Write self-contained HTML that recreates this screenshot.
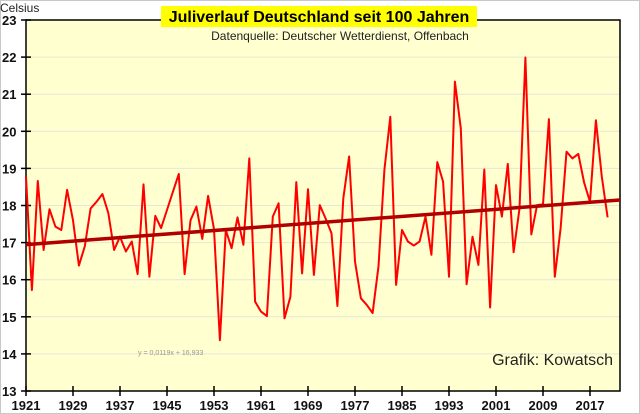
<!DOCTYPE html>
<html><head><meta charset="utf-8"><style>
body{margin:0;background:#fff;}
svg{display:block;font-family:"Liberation Sans",Arial,sans-serif;}
</style></head><body>
<svg id="chart" width="640" height="414" viewBox="0 0 640 414">
<rect x="0.5" y="0.5" width="639" height="413" fill="#fff" stroke="#c8c8c8"/>
<rect x="26" y="20" width="594" height="371" fill="#ffffd0"/>
<g id="grid"></g>
<g id="axes"></g>
<g id="series"></g>
<text x="0" y="12" font-size="12" fill="#222">Celsius</text>
<rect x="161" y="6" width="316" height="21" fill="#ffff00"/>
<text x="319" y="22" font-size="16" font-weight="bold" text-anchor="middle" fill="#000">Juliverlauf Deutschland seit 100 Jahren</text>
<text x="340" y="40" font-size="12" text-anchor="middle" fill="#222">Datenquelle: Deutscher Wetterdienst, Offenbach</text>
<text x="138" y="355" font-size="7" fill="#999">y = 0,0119x + 16,933</text>
<text x="613" y="365" font-size="16" text-anchor="end" fill="#222">Grafik: Kowatsch</text>
</svg>
<script>
const years = [];
for (let y = 1921; y <= 2020; y++) years.push(y);
const temps = [18.78,15.72,18.66,16.8,17.9,17.43,17.34,18.42,17.6,16.38,
16.9,17.92,18.1,18.31,17.8,16.8,17.16,16.76,17.03,16.15,
18.57,16.08,17.72,17.39,17.88,18.37,18.85,16.15,17.6,17.97,
17.1,18.26,17.36,14.37,17.34,16.85,17.68,16.94,19.27,15.41,
15.14,15.02,17.7,18.06,14.96,15.54,18.63,16.17,18.44,16.13,
18.01,17.65,17.25,15.29,18.19,19.32,16.49,15.5,15.32,15.1,
16.36,18.96,20.39,15.86,17.34,17.03,16.92,17.03,17.7,16.67,
19.17,18.64,16.08,21.34,20.08,15.88,17.16,16.4,18.97,15.25,
18.55,17.7,19.12,16.74,17.92,21.99,17.22,18.01,18.03,20.33,
16.08,17.38,19.45,19.27,19.39,18.62,18.1,20.3,18.78,17.68];
const yTicks = [13,14,15,16,17,18,19,20,21,22,23];
const xTickYears = [1921,1929,1937,1945,1953,1961,1969,1977,1985,1993,2001,2009,2017];
const trendSlope = 0.0119, trendIntercept = 16.933;

const NS = "http://www.w3.org/2000/svg";
const X = yr => 26 + (yr - 1921) * 5.875;
const Y = v => 391 - (v - 13) * 37.1;
function mk(tag, attrs, parent){const e=document.createElementNS(NS,tag);for(const k in attrs)e.setAttribute(k,attrs[k]);parent.appendChild(e);return e;}
const grid=document.getElementById('grid'),axes=document.getElementById('axes'),series=document.getElementById('series');

yTicks.forEach(t=>{
  if(t>13 && t<23){const g=mk('line',{x1:26,x2:620,y1:Y(t),y2:Y(t),stroke:'#e6e6d8','stroke-width':1},grid);
  
  }
  const tk=mk('line',{x1:21,x2:31,y1:Y(t),y2:Y(t),stroke:'#000','stroke-width':1.5},axes);
  
  
  const lb=mk('text',{x:2,y:Y(t)+5,'font-size':13,'font-weight':'bold',fill:'#111'},axes);
  lb.textContent=t;
  
  
});
xTickYears.forEach(yr=>{
  const tk=mk('line',{x1:X(yr),x2:X(yr),y1:386,y2:396,stroke:'#000','stroke-width':1.5},axes);
  
  
  const lb=mk('text',{x:X(yr),y:410,'font-size':13,'font-weight':'bold','text-anchor':'middle',fill:'#111'},axes);
  lb.textContent=yr;
  
  
});
const frame=mk('path',{d:'M477 20 H620 V391 H26 V20 H161',fill:'none',stroke:'#000','stroke-width':1.5},axes);



const pts=years.map((yr,i)=>X(yr).toFixed(1)+','+Y(temps[i]).toFixed(1)).join(' ');
const line=mk('polyline',{points:pts,fill:'none',stroke:'#ff0000','stroke-width':2,'stroke-linejoin':'round'},series);


const x0=1921,x1=1921+(620-26)/5.875;
const tr=mk('line',{x1:X(x0),y1:Y(trendIntercept+trendSlope*1),x2:X(x1),y2:Y(trendIntercept+trendSlope*(x1-1920)),stroke:'#b00000','stroke-width':3.5},series);


</script>
</body></html>
